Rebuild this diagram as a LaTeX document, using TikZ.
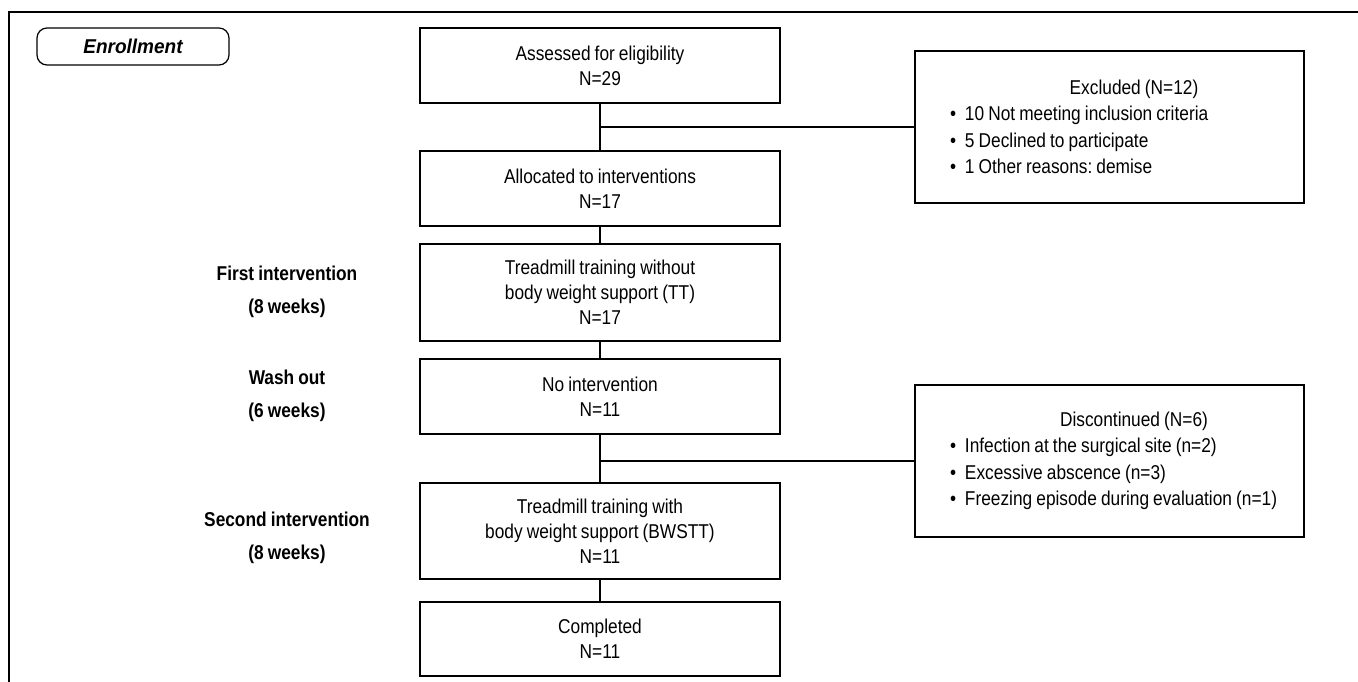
\documentclass[tikz,border=0pt]{standalone}
\usepackage{fontspec}
\setmainfont{Liberation Sans}[FakeStretch=0.865, WordSpace=0.85]
\newfontfamily\enrfont{Liberation Sans}[FakeStretch=0.95]
\begin{document}
\frenchspacing
\begin{tikzpicture}[x=1pt,y=-1pt,
  box/.style={draw, line width=1.2pt, minimum width=360pt, align=center, inner sep=0pt,
    font=\fontsize{20}{25}\selectfont},
  side/.style={draw, line width=1.2pt, minimum width=389pt, minimum height=152pt,
    text width=360pt, inner xsep=14.5pt, inner ysep=0pt, align=left,
    font=\fontsize{20}{26.5}\selectfont},
  phase/.style={font=\bfseries\fontsize{20}{33}\selectfont, align=center, inner sep=0pt},
  enrollbox/.style={draw, line width=1.2pt, rounded corners=10pt, minimum width=192pt,
    minimum height=37pt, inner sep=0pt, font=\enrfont\bfseries\itshape\fontsize{20}{22}\selectfont},
  frame/.style={line width=1.3pt},
  link/.style={line width=1.2pt}]
\useasboundingbox (0,0) rectangle (1358,682);
\newcommand{\bul}{\hspace*{20.5pt}\makebox[15pt][l]{\textbullet}}
\newcommand{\nsp}{\spaceskip=0pt\xspaceskip=0pt\frenchspacing}
% outer frame
\coordinate (fbl) at (9,682);
\coordinate (ftl) at (9,12);
\coordinate (ftr) at (1358,12);
\draw[frame] (fbl) -- (ftl) -- (ftr);
% enrollment label
\node[enrollbox] (enroll) at (133,46.5) {Enrollment};
% main column
\node[box, minimum height=75pt] (assess) at (600,65.5) {Assessed for eligibility\\N=29};
\node[box, minimum height=75pt] (alloc) at (600,188.5) {Allocated to interventions\\N=17};
\node[box, minimum height=97pt] (tt) at (600,292.5) {Treadmill training without\\body weight support (TT)\\N=17};
\node[box, minimum height=75pt] (noint) at (600,396.5) {No intervention\\N=11};
\node[box, minimum height=96pt] (bwstt) at (600,531) {Treadmill training with\\body weight support (BWSTT)\\N=11};
\node[box, minimum height=74pt] (compl) at (600,639) {Completed\\N=11};
% side boxes
\node[side] (excl) at (1109.5,127) {\nsp\makebox[\linewidth]{\hspace*{49pt}Excluded (N=12)}\\
\bul 10 Not meeting inclusion criteria\\
\bul 5 Declined to participate\\
\bul 1 Other reasons: demise};
\node[side] (disc) at (1109.5,461) {\nsp\makebox[\linewidth]{\hspace*{49pt}Discontinued (N=6)}\\
\bul Infection at the surgical site (n=2)\\
\bul Excessive abscence (n=3)\\
\bul Freezing episode during evaluation (n=1)};
% phase labels
\node[phase] (first) at (287,292) {First intervention\\(8 weeks)};
\node[phase] (wash) at (287,396) {Wash out\\(6 weeks)};
\node[phase] (second) at (287,537.5) {Second intervention\\(8 weeks)};
% connectors
\draw[link] (assess) -- (alloc);
\draw[link] (alloc) -- (tt);
\draw[link] (tt) -- (noint);
\draw[link] (noint) -- (bwstt);
\draw[link] (bwstt) -- (compl);
\coordinate (j1) at (600,127);
\coordinate (j2) at (600,461);
\draw[link] (j1) -- (excl.west);
\draw[link] (j2) -- (disc.west);
\end{tikzpicture}
\end{document}
